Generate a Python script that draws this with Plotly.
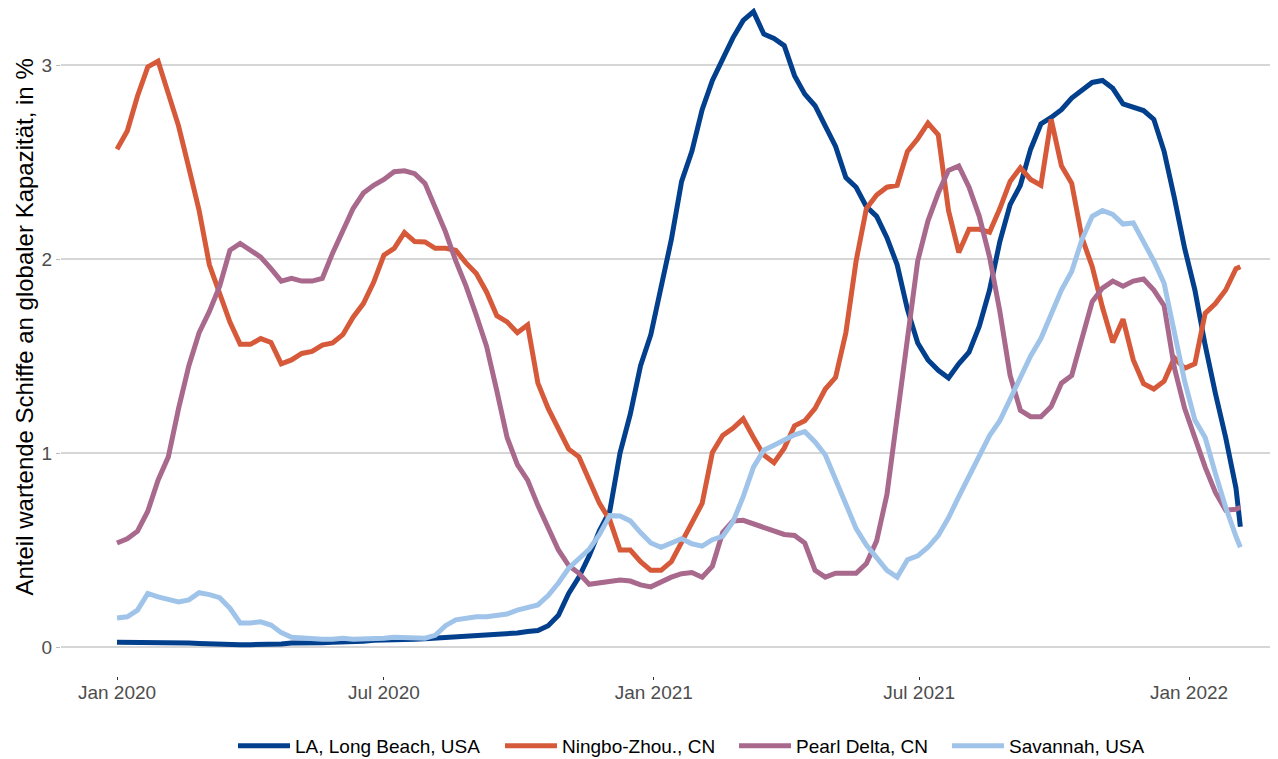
import pandas as pd
import plotly.graph_objects as go

# weekly sample dates starting 2020-01-01, plus final observation date
start_date = "2020-01-01"
n_weekly = 110
end_date = "2022-02-05"

la_long_beach = [
    0.025, 0.025, 0.025, 0.025, 0.022, 0.022, 0.02, 0.02, 0.018, 0.015, 0.015, 0.015,
    0.012, 0.012, 0.012, 0.015, 0.015,
    0.02, 0.02, 0.018, 0.022, 0.025, 0.025, 0.03, 0.03, 0.035, 0.035, 0.04, 0.04, 0.04, 0.042, 0.045, 0.05, 0.055, 0.055, 0.058,
    0.06, 0.062, 0.065, 0.072, 0.08, 0.085, 0.11, 0.163, 0.276, 0.36, 0.47, 0.60, 0.70, 1.00, 1.20, 1.45, 1.61, 1.86, 2.10,
    2.40, 2.555, 2.77, 2.92, 3.03, 3.14, 3.23, 3.275, 3.16, 3.137, 3.10, 2.945, 2.85, 2.79, 2.685, 2.58, 2.42, 2.37, 2.27,
    2.22, 2.11, 1.97, 1.74, 1.567, 1.48, 1.426, 1.387, 1.46, 1.52, 1.654, 1.84, 2.09, 2.28, 2.38, 2.566, 2.696, 2.73,
    2.77, 2.83, 2.87, 2.91, 2.92, 2.88, 2.80, 2.78, 2.765, 2.72, 2.555, 2.316, 2.056, 1.84, 1.556, 1.307, 1.08, 0.82,
    0.62,
]

ningbo = [
    2.566, 2.66, 2.84, 2.99, 3.02, 2.85, 2.685, 2.47, 2.25, 1.97, 1.82, 1.675, 1.56, 1.56, 1.59, 1.57, 1.46, 1.48,
    1.513, 1.524, 1.556, 1.567, 1.61, 1.70, 1.77, 1.88, 2.02, 2.055, 2.136, 2.09, 2.088, 2.055, 2.055, 2.045, 1.98, 1.925, 1.83,
    1.708, 1.676, 1.62, 1.66, 1.36, 1.23, 1.12, 1.02, 0.98, 0.86, 0.74, 0.655, 0.50, 0.50, 0.44, 0.395, 0.395, 0.44,
    0.536, 0.634, 0.74, 1.003, 1.09, 1.127, 1.176, 1.08, 0.99, 0.95, 1.025, 1.14, 1.166, 1.23, 1.33, 1.39, 1.62, 1.99, 2.26,
    2.33, 2.37, 2.38, 2.555, 2.62, 2.70, 2.64, 2.25, 2.034, 2.153, 2.153, 2.138, 2.26, 2.40, 2.47, 2.41, 2.38, 2.72,
    2.48, 2.39, 2.11, 1.96, 1.75, 1.57, 1.69, 1.48, 1.357, 1.33, 1.37, 1.49, 1.437, 1.46, 1.72, 1.77, 1.84, 1.95,
    1.96,
]

pearl_delta = [
    0.536, 0.558, 0.597, 0.70, 0.86, 0.98, 1.23, 1.45, 1.62, 1.73, 1.86, 2.045, 2.08, 2.045, 2.01, 1.95, 1.886, 1.90,
    1.886, 1.886, 1.90, 2.03, 2.15, 2.26, 2.34, 2.38, 2.41, 2.45, 2.455, 2.44, 2.39, 2.27, 2.14, 1.99, 1.86, 1.71,
    1.55, 1.32, 1.08, 0.94, 0.86, 0.73, 0.62, 0.50, 0.42, 0.38, 0.323, 0.33, 0.34, 0.345, 0.34, 0.32, 0.31, 0.336, 0.36,
    0.378, 0.384, 0.36, 0.417, 0.59, 0.65, 0.653, 0.634, 0.612, 0.597, 0.58, 0.575, 0.536, 0.395, 0.36, 0.38, 0.38, 0.38, 0.43,
    0.547, 0.786, 1.176, 1.58, 1.99, 2.197, 2.34, 2.457, 2.48, 2.37, 2.22, 2.01, 1.73, 1.40, 1.22, 1.187, 1.187, 1.24,
    1.36, 1.40, 1.58, 1.78, 1.85, 1.886, 1.86, 1.886, 1.897, 1.84, 1.76, 1.44, 1.23, 1.08, 0.927, 0.797, 0.705, 0.71,
    0.72,
]

savannah = [
    0.15, 0.156, 0.19, 0.276, 0.258, 0.243, 0.232, 0.243, 0.28, 0.27, 0.254, 0.20, 0.124, 0.124, 0.13, 0.113, 0.074,
    0.05, 0.045, 0.04, 0.04, 0.04, 0.045, 0.04, 0.04, 0.045, 0.045, 0.05, 0.05, 0.045, 0.045, 0.06,
    0.11, 0.14, 0.15, 0.156, 0.156,
    0.163, 0.17, 0.19, 0.206, 0.217, 0.265, 0.33, 0.406, 0.454, 0.504, 0.58, 0.677, 0.675, 0.65, 0.59, 0.536, 0.514, 0.536,
    0.558, 0.532, 0.52, 0.553, 0.57, 0.645, 0.775, 0.927, 1.014, 1.04, 1.064, 1.094, 1.11, 1.057, 0.99, 0.86, 0.73, 0.61, 0.525,
    0.46, 0.395, 0.36, 0.45, 0.47, 0.514, 0.575, 0.666, 0.775, 0.883, 0.99, 1.09, 1.166, 1.274, 1.383, 1.50, 1.59, 1.71,
    1.84, 1.936, 2.10, 2.22, 2.25, 2.23, 2.18, 2.186, 2.09, 1.99, 1.875, 1.61, 1.37, 1.17, 1.08, 0.894, 0.72, 0.57,
    0.514,
]

series_names = ["LA, Long Beach, USA", "Ningbo-Zhou., CN", "Pearl Delta, CN", "Savannah, USA"]
series_values = [la_long_beach, ningbo, pearl_delta, savannah]
series_colors = ["#023F8C", "#D65A3A", "#A8698D", "#A0C4E9"]

x_tick_vals = ["2020-01-01", "2020-07-01", "2021-01-01", "2021-07-01", "2022-01-01"]
x_tick_text = ["Jan 2020", "Jul 2020", "Jan 2021", "Jul 2021", "Jan 2022"]
y_tick_vals = [0, 1, 2, 3]
y_title = "Anteil wartende Schiffe an globaler Kapazität, in %"

weekly = list(pd.date_range(start_date, periods=n_weekly, freq="7D"))
dates = weekly + [pd.Timestamp(end_date)]

# figure geometry (page body adds an 8px offset)
W, H = 1270, 751
L, R, T, B = 53, 6, 0, 83
plot_w = W - L - R
plot_h = H - T - B

legend_ids = ["legend", "legend2", "legend3", "legend4"]
legend_text_left = [295, 562, 796, 1009]  # screen px where legend labels begin
swatch_w = 52

fig = go.Figure()
for name, vals, col, lid in zip(series_names, series_values, series_colors, legend_ids):
    d = dates[:len(vals) - 1] + [dates[-1]]
    fig.add_trace(go.Scatter(x=d, y=vals, mode="lines", name=name, legend=lid,
                             line=dict(color=col, width=5)))

legend_layouts = {}
for lid, tx in zip(legend_ids, legend_text_left):
    origin = tx - 8 - (swatch_w + 10)
    legend_layouts[lid] = dict(
        orientation="h", x=(origin - L) / plot_w, xanchor="left",
        y=(plot_h - 738) / plot_h, yanchor="middle",
        font=dict(size=19, color="#000000"), bgcolor="rgba(0,0,0,0)",
        borderwidth=0, itemwidth=swatch_w,
    )

fig.update_layout(
    width=W, height=H,
    margin=dict(l=L, r=R, t=T, b=B, autoexpand=False),
    plot_bgcolor="white", paper_bgcolor="white",
    font=dict(family="Liberation Sans, Arial, sans-serif", color="#000000"),
    showlegend=True,
    xaxis=dict(range=["2019-11-23 19:30", "2022-02-26 14:00"], showgrid=False, zeroline=False,
               tickvals=x_tick_vals, ticktext=x_tick_text, ticks="outside", ticklen=3,
               tickcolor="#333333", tickwidth=1, ticklabelstandoff=-4,
               tickfont=dict(size=19, color="#4D4D4D"), showline=False),
    yaxis=dict(range=[-0.1495, 3.2938], showgrid=True, gridcolor="#D6D6D6", gridwidth=1.6,
               zeroline=False, tickvals=y_tick_vals, ticks="outside", ticklen=4,
               tickcolor="#BBBBBB", tickwidth=1.2,
               tickfont=dict(size=19, color="#4D4D4D"), showline=False),
    annotations=[dict(text=y_title, xref="paper", yref="paper", x=(16 - L) / plot_w,
                      y=(plot_h - 319.5) / plot_h,
                      xanchor="center", yanchor="middle", textangle=-90, showarrow=False,
                      font=dict(size=24, color="#000000"))],
    **legend_layouts,
)

fig.write_html("out.html")
